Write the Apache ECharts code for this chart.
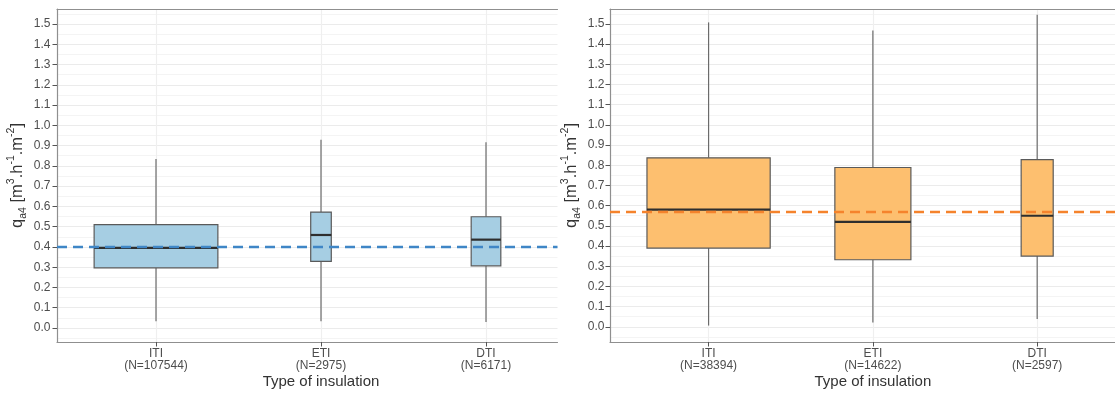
<!DOCTYPE html>
<html>
<head>
<meta charset="utf-8">
<script src="https://cdn.jsdelivr.net/npm/echarts@6/dist/echarts.min.js"></script>
<style>
  html, body { margin: 0; padding: 0; background: #ffffff; }
  #chart { width: 1115px; height: 394px; }
</style>
</head>
<body>
<div id="chart"></div>
<script>
// Insulation types shown on both panels
const categories = ['ITI', 'ETI', 'DTI'];

// Left panel: sample sizes and box statistics [lower whisker, Q1, median, Q3, upper whisker]
const leftCounts = [107544, 2975, 6171];
const leftStats = [
  [0.033, 0.297, 0.395, 0.510, 0.834],
  [0.033, 0.329, 0.459, 0.572, 0.929],
  [0.030, 0.307, 0.436, 0.549, 0.916]
];
const leftReference = 0.40;

// Right panel: sample sizes and box statistics
const rightCounts = [38394, 14622, 2597];
const rightStats = [
  [0.006, 0.390, 0.580, 0.837, 1.508],
  [0.021, 0.332, 0.520, 0.789, 1.468],
  [0.038, 0.350, 0.550, 0.828, 1.546]
];
const rightReference = 0.57;

// Value axis tick labels and the minor grid positions between them
const yTicks = [0.0, 0.1, 0.2, 0.3, 0.4, 0.5, 0.6, 0.7, 0.8, 0.9, 1.0, 1.1, 1.2, 1.3, 1.4, 1.5];
const yMinorTicks = [-0.05, 0.05, 0.15, 0.25, 0.35, 0.45, 0.55, 0.65, 0.75, 0.85, 0.95, 1.05, 1.15, 1.25, 1.35, 1.45, 1.55];
const xPositions = [1, 2, 3];

const FONT = "'Liberation Sans', Arial, sans-serif";
const BORDER = '#8f8f8f';
const GRID_MAJOR = '#ebebeb';
const GRID_MINOR = '#f4f4f4';
const BOX_MAX_WIDTH = 0.75; // widest box, in category units (width grows with sqrt(N))

const panels = [
  { left: 57, width: 500.5, unit: 165.0, yMin: -0.069, yMax: 1.574, counts: leftCounts, stats: leftStats,
    ref: leftReference, fill: '#a6cee3', refColor: '#3f86c6', nameGap: 27, labelMargin: 6.5 },
  { left: 610, width: 505, unit: 164.3, yMin: -0.0755, yMax: 1.5743, counts: rightCounts, stats: rightStats,
    ref: rightReference, fill: '#fdbf6f', refColor: '#f5832c', nameGap: 23, labelMargin: 5.5 }
];

const yTitle = '{q|q}{sub|a4}{b| [m}{sup|3}{b|.h}{sup|-1}{b|.m}{sup|-2}{b|]}';
const yTitleRich = {
  q: { fontSize: 16.5, color: '#333', fontFamily: FONT, lineHeight: 25, verticalAlign: 'middle' },
  b: { fontSize: 16.5, color: '#333', fontFamily: FONT, lineHeight: 25, verticalAlign: 'middle' },
  sub: { fontSize: 10.5, color: '#333', fontFamily: FONT, lineHeight: 25, verticalAlign: 'bottom', padding: [0, 0, 1, 0] },
  sup: { fontSize: 10.5, color: '#333', fontFamily: FONT, lineHeight: 25, verticalAlign: 'top', padding: [1, 0, 0, 0] }
};

function renderBox(fill) {
  return function (params, api) {
    const x = api.value(0);
    const lo = api.coord([x, api.value(1)]);
    const q1 = api.coord([x, api.value(2)]);
    const med = api.coord([x, api.value(3)]);
    const q3 = api.coord([x, api.value(4)]);
    const hi = api.coord([x, api.value(5)]);
    const halfW = api.size([BOX_MAX_WIDTH * api.value(6), 0])[0] / 2;
    const cx = q1[0];
    const whisker = { stroke: '#6b6b6b', lineWidth: 1.2 };
    return {
      type: 'group',
      children: [
        { type: 'line', shape: { x1: cx, y1: lo[1], x2: cx, y2: q1[1] }, style: whisker },
        { type: 'line', shape: { x1: cx, y1: q3[1], x2: cx, y2: hi[1] }, style: whisker },
        { type: 'rect', shape: { x: cx - halfW, y: q3[1], width: 2 * halfW, height: q1[1] - q3[1] },
          style: { fill: fill, stroke: '#5a5a5a', lineWidth: 1.2 } },
        { type: 'line', shape: { x1: cx - halfW, y1: med[1], x2: cx + halfW, y2: med[1] },
          style: { stroke: '#2e2e2e', lineWidth: 2.2 } }
      ]
    };
  };
}

const grid = [], xAxis = [], yAxis = [], series = [];
panels.forEach(function (p, i) {
  const maxN = Math.max.apply(null, p.counts);
  const xMax = 0.4 + p.width / p.unit;
  grid.push({ left: p.left, top: 9, width: p.width, height: 333, containLabel: false });

  xAxis.push({
    type: 'value', gridIndex: i, min: 0.4, max: xMax, position: 'bottom',
    axisLine: { show: true, onZero: false, lineStyle: { color: BORDER, width: 1.2 } },
    axisTick: { show: true, customValues: xPositions, length: 4.5, lineStyle: { color: '#555', width: 1 } },
    axisLabel: {
      show: true, customValues: xPositions, margin: 5, lineHeight: 12.5,
      fontSize: 12, color: '#4d4d4d', fontFamily: FONT,
      formatter: function (v) {
        const k = Math.round(v) - 1;
        return categories[k] + '\n(N=' + p.counts[k] + ')';
      }
    },
    splitLine: { show: true, lineStyle: { color: '#efefef', width: 1.2 } }
  });
  xAxis.push({
    type: 'value', gridIndex: i, min: 0.4, max: xMax, position: 'top',
    axisLine: { show: true, onZero: false, lineStyle: { color: BORDER, width: 1.2 } },
    axisTick: { show: false }, axisLabel: { show: false }, splitLine: { show: false }
  });

  yAxis.push({
    type: 'value', gridIndex: i, min: p.yMin, max: p.yMax, position: 'left',
    name: yTitle, nameLocation: 'middle', nameGap: p.nameGap, nameRotate: 90,
    nameTextStyle: { rich: yTitleRich },
    axisLine: { show: true, onZero: false, lineStyle: { color: BORDER, width: 1.2 } },
    axisTick: { show: true, customValues: yTicks, length: 4.5, lineStyle: { color: '#555', width: 1 } },
    axisLabel: {
      show: true, customValues: yTicks, margin: p.labelMargin,
      fontSize: 12, color: '#4d4d4d', fontFamily: FONT,
      formatter: function (v) { return v.toFixed(1); }
    },
    splitLine: { show: true, lineStyle: { color: GRID_MAJOR, width: 1.1 } }
  });
  yAxis.push({
    type: 'value', gridIndex: i, min: p.yMin, max: p.yMax, position: 'left',
    axisLine: { show: false, onZero: false },
    axisTick: { show: false, customValues: yMinorTicks },
    axisLabel: { show: false },
    splitLine: { show: true, lineStyle: { color: GRID_MINOR, width: 1 } }
  });

  const data = p.stats.map(function (s, k) {
    return [xPositions[k], s[0], s[1], s[2], s[3], s[4], Math.sqrt(p.counts[k] / maxN)];
  });
  series.push({
    type: 'custom', xAxisIndex: 2 * i, yAxisIndex: 2 * i, z: 2,
    renderItem: renderBox(p.fill),
    encode: { x: 0, y: [1, 2, 3, 4, 5] },
    data: data
  });
  series.push({
    type: 'line', xAxisIndex: 2 * i, yAxisIndex: 2 * i, z: 5, data: [],
    markLine: {
      silent: true, symbol: ['none', 'none'], label: { show: false },
      lineStyle: { color: p.refColor, type: [10, 6], width: 2.4 },
      emphasis: { disabled: true },
      data: [{ yAxis: p.ref }]
    }
  });
});

const chart = echarts.init(document.getElementById('chart'), null, { renderer: 'canvas' });
chart.setOption({
  animation: false,
  backgroundColor: '#ffffff',
  grid: grid, xAxis: xAxis, yAxis: yAxis, series: series
});

// Axis titles centred on the middle category of each panel
const titles = panels.map(function (p, i) {
  const cx = chart.convertToPixel({ xAxisIndex: 2 * i }, xPositions[1]);
  return {
    type: 'text', x: cx, y: 382,
    style: { text: 'Type of insulation', fontSize: 15, fontFamily: FONT, fill: '#333',
             align: 'center', verticalAlign: 'middle' }
  };
});
chart.setOption({ graphic: titles });
</script>
</body>
</html>
